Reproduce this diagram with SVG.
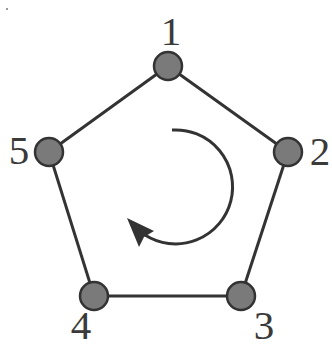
<svg xmlns="http://www.w3.org/2000/svg" width="332" height="347" viewBox="0 0 332 347">
<style>
.edge{stroke:#333;stroke-width:3;fill:none}
.node{fill:#7a7a7a;stroke:#333;stroke-width:2.5}
.lbl{font-family:"Liberation Serif",serif;font-size:41px;fill:#3a3a3a;text-anchor:middle}
</style>
<rect width="332" height="347" fill="#fff"/>
<rect x="6" y="8" width="2" height="2" fill="#999"/>
<g id="connectors">
<line class="edge" x1="168" y1="66" x2="288" y2="152"/>
<line class="edge" x1="288" y1="152" x2="241" y2="296"/>
<line class="edge" x1="241" y1="296" x2="94" y2="296"/>
<line class="edge" x1="94" y1="296" x2="49" y2="152"/>
<line class="edge" x1="49" y1="152" x2="168" y2="66"/>
<path class="edge" d="M172,130 A57,57 0 1 1 145,235"/>
<polygon points="127,218 154,231 144,237 139,247" fill="#333"/>
</g>
<g id="n1"><circle class="node" cx="168" cy="66" r="14"/><text class="lbl" x="171" y="45">1</text></g>
<g id="n2"><circle class="node" cx="288" cy="152" r="14"/><text class="lbl" x="320" y="165">2</text></g>
<g id="n3"><circle class="node" cx="241" cy="296" r="14"/><text class="lbl" x="264" y="339">3</text></g>
<g id="n4"><circle class="node" cx="94" cy="296" r="14"/><text class="lbl" x="81" y="339">4</text></g>
<g id="n5"><circle class="node" cx="49" cy="152" r="14"/><text class="lbl" x="19" y="164">5</text></g>
</svg>
